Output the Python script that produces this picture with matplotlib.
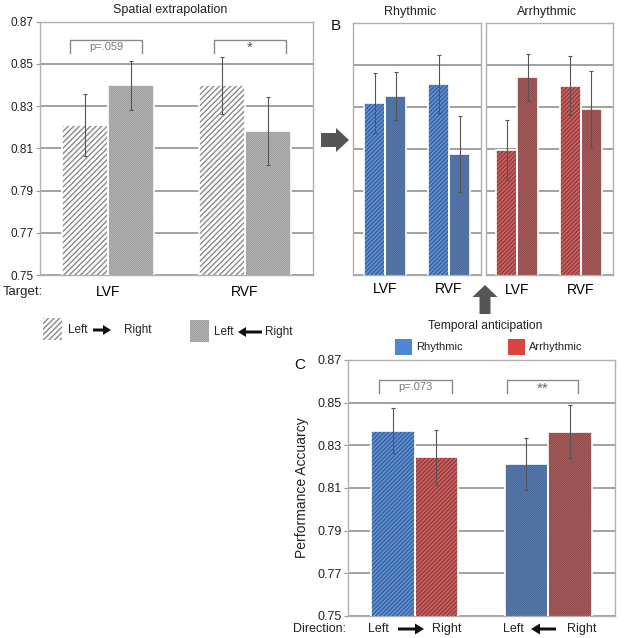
import numpy as np
import matplotlib
matplotlib.use("Agg")
import matplotlib.pyplot as plt
from matplotlib.patches import Rectangle, Polygon

plt.rcParams['font.family'] = ['Liberation Sans', 'DejaVu Sans']

# ---------------- data ----------------
targets = ['LVF', 'RVF']
yticks = [0.75, 0.77, 0.79, 0.81, 0.83, 0.85, 0.87]

# Panel A: spatial extrapolation
spatial_lr = [0.821, 0.840]
spatial_lr_err = [0.0148, 0.0135]
spatial_rl = [0.8398, 0.8182]
spatial_rl_err = [0.0118, 0.0160]

# Panel B
rhythmic_lr = [0.832, 0.8408]
rhythmic_lr_err = [0.0143, 0.0137]
rhythmic_rl = [0.8352, 0.8074]
rhythmic_rl_err = [0.0113, 0.0180]
arrhythmic_lr = [0.8095, 0.8400]
arrhythmic_lr_err = [0.0144, 0.0140]
arrhythmic_rl = [0.8440, 0.8288]
arrhythmic_rl_err = [0.0113, 0.0181]

# Panel C: temporal anticipation by direction
rhythmic_c = [0.8369, 0.8213]
rhythmic_c_err = [0.0105, 0.0123]
arrhythmic_c = [0.8244, 0.8364]
arrhythmic_c_err = [0.0128, 0.0124]

# ---------------- styles ----------------
W, H = 624, 638
fig = plt.figure(figsize=(W / 100, H / 100), dpi=100)
fig.patch.set_facecolor('white')

def fx(x):
    return x / W

def fy(y):
    return 1 - y / H

def axes_px(x0, y0, x1, y1):
    return fig.add_axes([x0 / W, 1 - y1 / H, (x1 - x0) / W, (y1 - y0) / H])

STY = {
    'gray_hatch': dict(face='white', hcol='#8a8a8a', hatch='//////', hlw=1.0),
    'gray_dense': dict(face='#c2c2c2', hcol='#8c8c8c', hatch='/' * 16, hlw=0.5),
    'blue_hatch': dict(face='#5d92da', hcol='#3a5c92', hatch='////////', hlw=0.9),
    'blue_dense': dict(face='#5b7db0', hcol='#40608f', hatch='/' * 16, hlw=0.4),
    'red_hatch': dict(face='#d06060', hcol='#8a3a3a', hatch='////////', hlw=0.9),
    'red_dense': dict(face='#a85e5e', hcol='#864242', hatch='/' * 16, hlw=0.4),
}

def draw_bars(ax, x, vals, errs, width, sty):
    s = STY[sty]
    ax.bar(x, vals, width, color=s['face'], edgecolor='none', linewidth=0, zorder=2)
    with plt.rc_context({'hatch.linewidth': s['hlw']}):
        ax.bar(x, vals, width, facecolor='none', edgecolor=s['hcol'], linewidth=0,
               hatch=s['hatch'], zorder=3)
    ax.bar(x, vals, width, facecolor='none', edgecolor='white', linewidth=1.2, zorder=4)
    ax.errorbar(x, vals, yerr=errs, fmt='none', ecolor='#555555', elinewidth=0.8,
                capsize=1.5, capthick=0.8, zorder=5)

def style_axes(ax, show_ylabels, labelsize):
    ax.set_ylim(0.75, 0.87)
    ax.set_xlim(-0.5, 1.5)
    ax.set_yticks(yticks)
    ax.yaxis.grid(True, color='#9a9a9a', linewidth=1.3)
    ax.set_axisbelow(True)
    for sp in ax.spines.values():
        sp.set_color('#b0b0b0')
        sp.set_linewidth(1.0)
    if show_ylabels:
        ax.set_yticklabels(['%.2f' % v for v in yticks])
        ax.tick_params(axis='y', length=3, color='#999999', labelsize=labelsize,
                       pad=1.5, labelcolor='#222222')
    else:
        ax.tick_params(axis='y', length=0, labelleft=False)
    ax.tick_params(axis='x', length=0)

def hz_arrow(x0, x1, y, shaft, hl, hw, direction, color):
    if direction == 'right':
        xb = x1 - hl
        pts = [(x0, y - shaft / 2), (xb, y - shaft / 2), (xb, y - hw / 2), (x1, y),
               (xb, y + hw / 2), (xb, y + shaft / 2), (x0, y + shaft / 2)]
    else:
        xb = x0 + hl
        pts = [(x1, y - shaft / 2), (xb, y - shaft / 2), (xb, y - hw / 2), (x0, y),
               (xb, y + hw / 2), (xb, y + shaft / 2), (x1, y + shaft / 2)]
    fig.patches.append(Polygon([(fx(a), fy(b)) for a, b in pts], closed=True,
                               transform=fig.transFigure, facecolor=color,
                               edgecolor='none', figure=fig))

def up_arrow(x, ybot, ytip, shaft, hl, hw, color):
    yb = ytip + hl
    pts = [(x - shaft / 2, ybot), (x - shaft / 2, yb), (x - hw / 2, yb), (x, ytip),
           (x + hw / 2, yb), (x + shaft / 2, yb), (x + shaft / 2, ybot)]
    fig.patches.append(Polygon([(fx(a), fy(b)) for a, b in pts], closed=True,
                               transform=fig.transFigure, facecolor=color,
                               edgecolor='none', figure=fig))

def bracket(x0, x1, ytop, ybot, label, ty, size=8, color='#777777'):
    xs = [fx(x0), fx(x0), fx(x1), fx(x1)]
    ys = [fy(ybot), fy(ytop), fy(ytop), fy(ybot)]
    fig.add_artist(plt.Line2D(xs, ys, color='#8a8a8a', linewidth=1.0,
                              transform=fig.transFigure))
    fig.text(fx((x0 + x1) / 2), fy(ty), label, ha='center', va='center',
             fontsize=size, color=color)

def ftext(x, y, s, **kw):
    fig.text(fx(x), fy(y), s, **kw)

x = np.arange(len(targets))

# ---------------- Panel A ----------------
axA = axes_px(40, 21.7, 313, 275)
off = 0.168
draw_bars(axA, x - off, spatial_lr, spatial_lr_err, 0.336, 'gray_hatch')
draw_bars(axA, x + off, spatial_rl, spatial_rl_err, 0.336, 'gray_dense')
style_axes(axA, True, 8.5)
axA.set_xticks(x)
axA.set_xticklabels(targets, fontsize=10)
axA.tick_params(axis='x', pad=7)
ftext(170, 10, 'Spatial extrapolation', ha='center', va='center', fontsize=9, color='#222222')
ftext(3, 292, 'Target:', ha='left', va='center', fontsize=9.5, color='#222222')
bracket(70, 142, 40, 53, 'p=.059', 47.5)
bracket(214, 286, 40, 53, '*', 48, size=11, color='#555555')

# ---------------- Panel B ----------------
axB1 = axes_px(353.3, 22.7, 481, 275)
offb = 0.165
draw_bars(axB1, x - offb, rhythmic_lr, rhythmic_lr_err, 0.33, 'blue_hatch')
draw_bars(axB1, x + offb, rhythmic_rl, rhythmic_rl_err, 0.33, 'blue_dense')
style_axes(axB1, False, 8.5)
axB1.set_xticks(x)
axB1.set_xticklabels(targets, fontsize=10)
axB1.tick_params(axis='x', pad=5)

axB2 = axes_px(485.7, 22.7, 612.7, 275)
draw_bars(axB2, x - offb, arrhythmic_lr, arrhythmic_lr_err, 0.33, 'red_hatch')
draw_bars(axB2, x + offb, arrhythmic_rl, arrhythmic_rl_err, 0.33, 'red_dense')
style_axes(axB2, False, 8.5)
axB2.set_xticks(x)
axB2.set_xticklabels(targets, fontsize=10)
axB2.tick_params(axis='x', pad=5.5)

ftext(410, 11.5, 'Rhythmic', ha='center', va='center', fontsize=9, color='#222222')
ftext(547, 11.5, 'Arrhythmic', ha='center', va='center', fontsize=9, color='#222222')
ftext(336, 26, 'B', ha='center', va='center', fontsize=11, color='#111111')

# arrows between panels
hz_arrow(321, 349, 140, 14, 13, 24, 'right', '#555555')
up_arrow(485, 314, 285, 11, 12, 25, '#555555')

# ---------------- legend A ----------------
with plt.rc_context({'hatch.linewidth': 1.0}):
    fig.patches.append(Rectangle((fx(43), fy(340)), (62 - 43) / W, 22 / H,
                                 transform=fig.transFigure, facecolor='white',
                                 edgecolor='#8a8a8a', linewidth=0, hatch='//////',
                                 figure=fig))
with plt.rc_context({'hatch.linewidth': 0.5}):
    fig.patches.append(Rectangle((fx(190), fy(342)), (209 - 190) / W, 22 / H,
                                 transform=fig.transFigure, facecolor='#c2c2c2',
                                 edgecolor='#8c8c8c', linewidth=0, hatch='/' * 16,
                                 figure=fig))
ftext(68, 330, 'Left', ha='left', va='center', fontsize=8.5, color='#222222')
hz_arrow(93, 111, 330, 3, 8, 10, 'right', '#111111')
ftext(124, 330, 'Right', ha='left', va='center', fontsize=8.5, color='#222222')
ftext(214, 332, 'Left', ha='left', va='center', fontsize=8.5, color='#222222')
hz_arrow(238, 262, 332, 3, 8, 10, 'left', '#111111')
ftext(265, 332, 'Right', ha='left', va='center', fontsize=8.5, color='#222222')

# ---------------- legend C ----------------
ftext(485, 326.5, 'Temporal anticipation', ha='center', va='center', fontsize=8.7,
      color='#222222')
fig.patches.append(Rectangle((fx(395), fy(355)), 17 / W, 16 / H, transform=fig.transFigure,
                             facecolor='#4a87d9', edgecolor='none', figure=fig))
ftext(416, 347, 'Rhythmic', ha='left', va='center', fontsize=8, color='#222222')
fig.patches.append(Rectangle((fx(508), fy(355)), 17 / W, 16 / H, transform=fig.transFigure,
                             facecolor='#d9443e', edgecolor='none', figure=fig))
ftext(529, 347, 'Arrhythmic', ha='left', va='center', fontsize=8, color='#222222')

# ---------------- Panel C ----------------
axC = axes_px(347.7, 360, 615, 616)
offc = 0.163
draw_bars(axC, x[:1] - offc, rhythmic_c[:1], rhythmic_c_err[:1], 0.326, 'blue_hatch')
draw_bars(axC, x[:1] + offc, arrhythmic_c[:1], arrhythmic_c_err[:1], 0.326, 'red_hatch')
draw_bars(axC, x[1:] - offc, rhythmic_c[1:], rhythmic_c_err[1:], 0.326, 'blue_dense')
draw_bars(axC, x[1:] + offc, arrhythmic_c[1:], arrhythmic_c_err[1:], 0.326, 'red_dense')
style_axes(axC, True, 9)
axC.set_xticks([])
axC.set_ylabel('Performance Accuarcy', fontsize=10, color='#222222', labelpad=6)
ftext(300, 365, 'C', ha='center', va='center', fontsize=11, color='#111111')
bracket(379, 452, 380, 393, 'p=.073', 386.5)
bracket(507, 578, 380, 393, '**', 389, size=11, color='#666666')

# direction row
ty = 629
ftext(293, ty, 'Direction:', ha='left', va='center', fontsize=9, color='#222222')
ftext(368, ty, 'Left', ha='left', va='center', fontsize=9, color='#222222')
hz_arrow(398, 424, ty, 3, 9, 11, 'right', '#111111')
ftext(432, ty, 'Right', ha='left', va='center', fontsize=9, color='#222222')
ftext(503, ty, 'Left', ha='left', va='center', fontsize=9, color='#222222')
hz_arrow(531, 556, ty, 3, 9, 11, 'left', '#111111')
ftext(567, ty, 'Right', ha='left', va='center', fontsize=9, color='#222222')

fig.savefig('out.png', dpi=100, facecolor='white')
